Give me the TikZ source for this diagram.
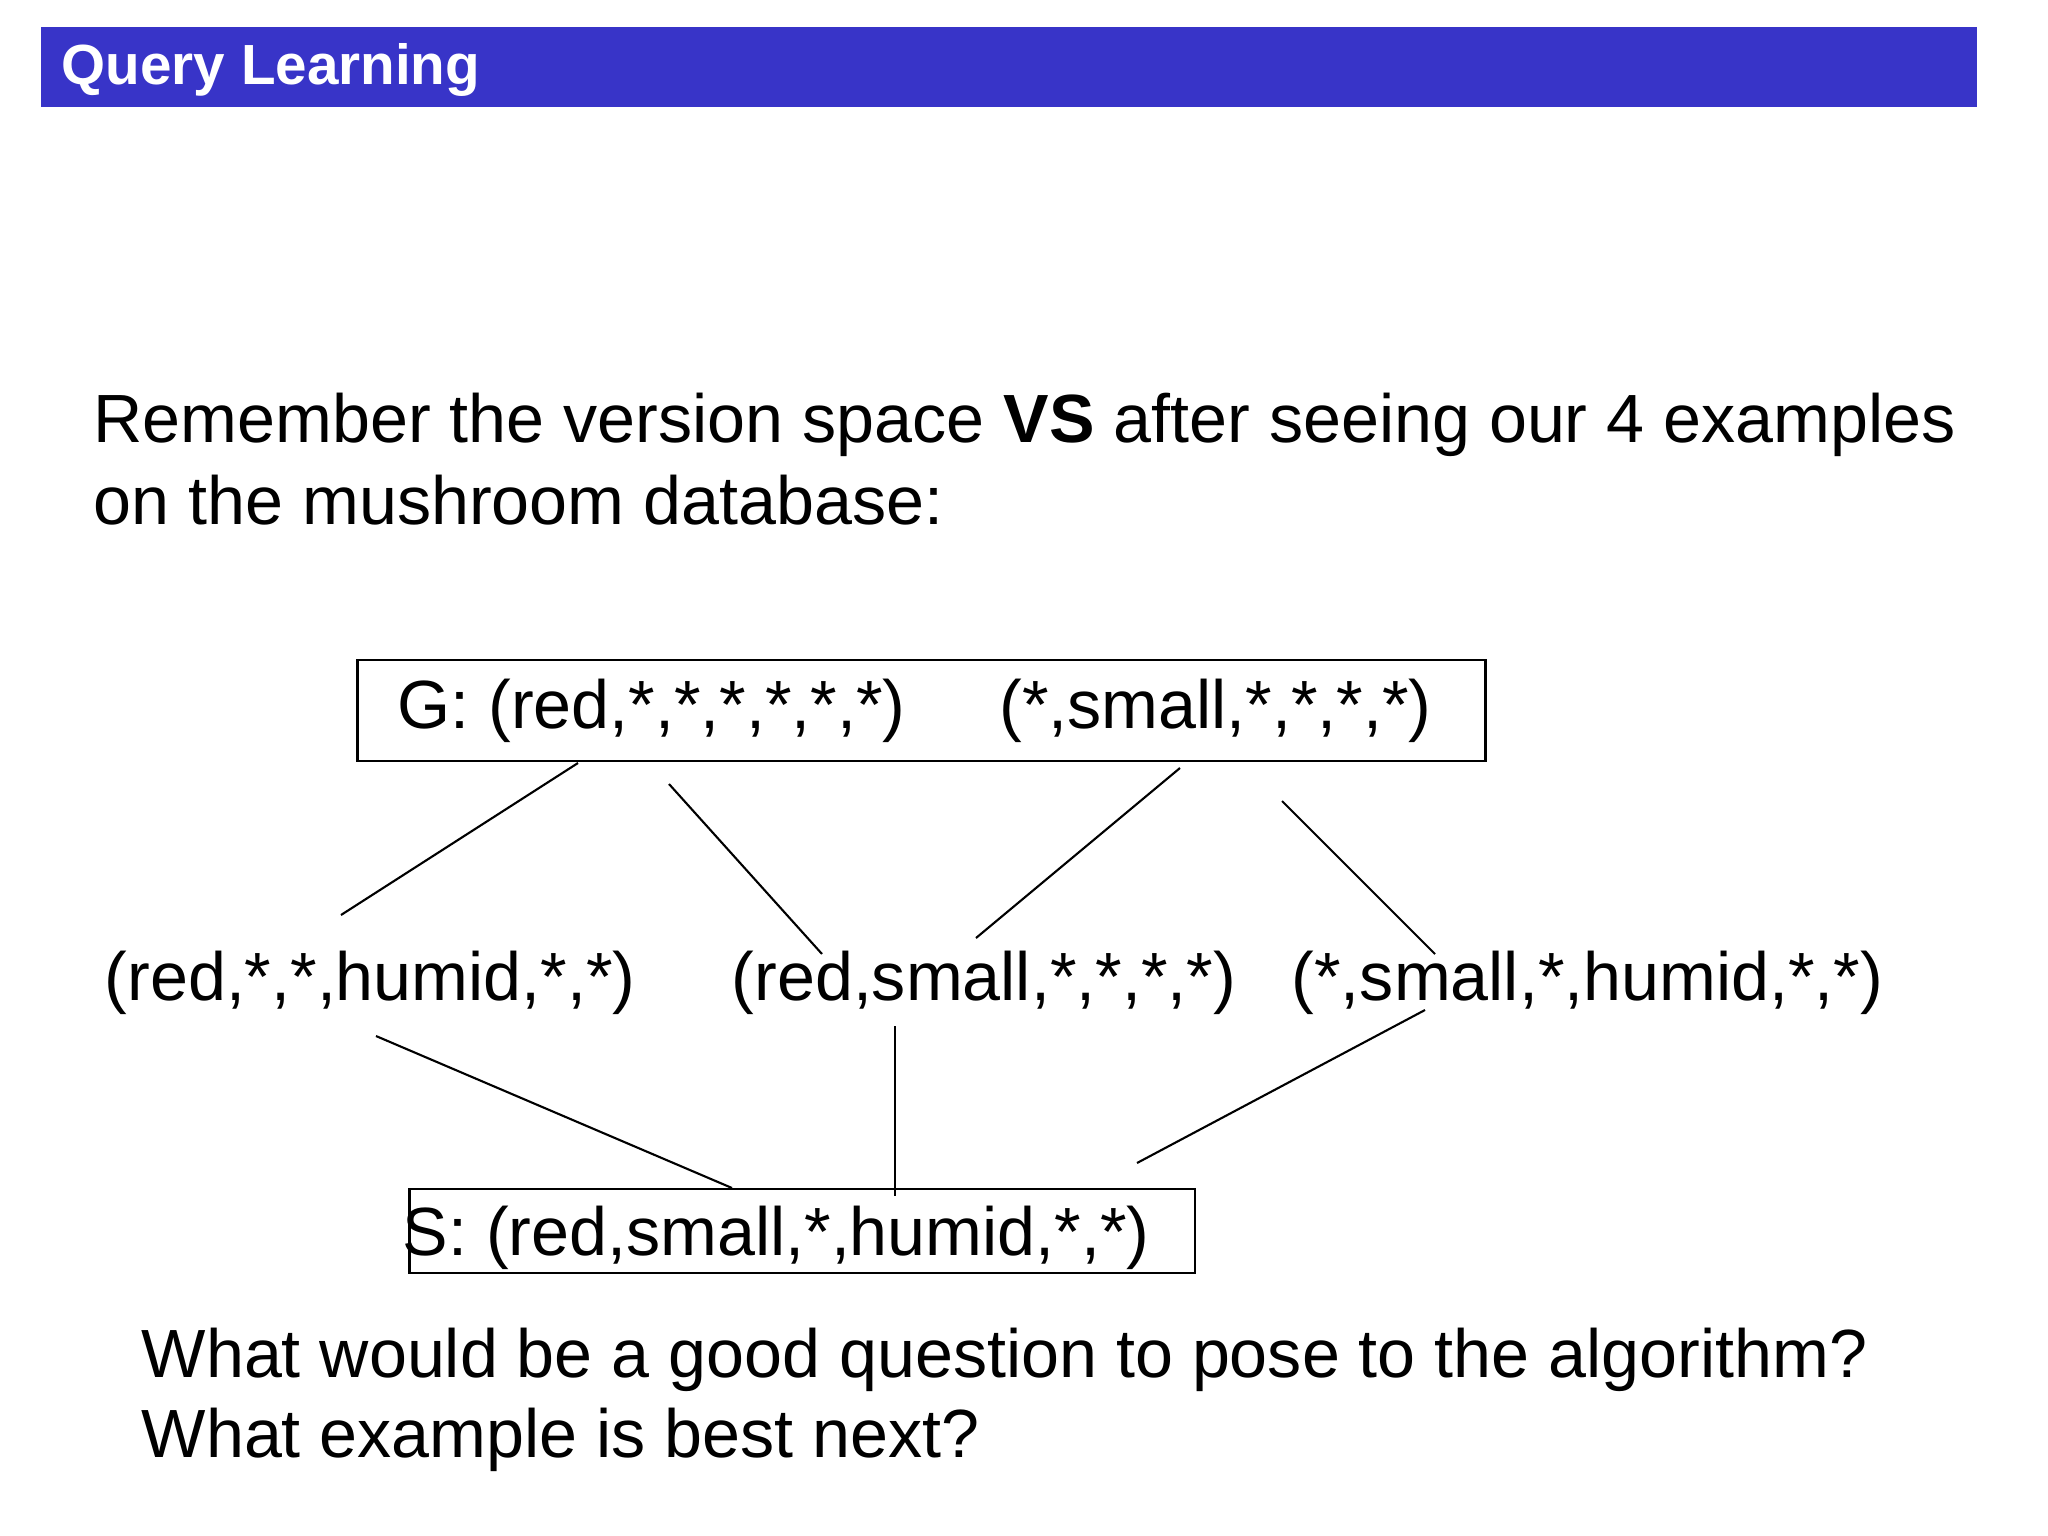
\documentclass[tikz,border=0pt]{standalone}
\usepackage{fontspec}
\setmainfont{Liberation Sans}
\usepackage{xcolor}
\usepackage{tikz}
\definecolor{titleblue}{RGB}{56, 52, 200}
\usetikzlibrary{positioning}

\begin{document}
\begin{tikzpicture}[
    x=0.01cm, y=-0.01cm,
    bodytext/.style={inner sep=0pt, anchor=base west, font=\fontsize{19.4}{23}\selectfont},
    setbox/.style={draw, line width=0.7pt, inner sep=0pt, font=\fontsize{19.4}{23}\selectfont},
    link/.style={line width=0.6pt}
]
    \useasboundingbox (0,0) rectangle (2048,1536);

    % title bar
    \node[fill=titleblue, inner sep=0pt, minimum width=19.35cm, minimum height=0.8cm, anchor=north west] (bar) at (40,26) {};
    \node[inner sep=0pt, anchor=base west, text=white, font=\fontsize{16.1}{19}\selectfont\bfseries] (title) at (61,84) {Query Learning};

    % intro text
    \node[bodytext] (intro1) at (93,442) {Remember the version space \textbf{VS} after seeing our 4 examples};
    \node[bodytext] (intro2) at (93,524) {on the mushroom database:};

    % version space
    \node[setbox, minimum width=11.27cm, minimum height=1.01cm] (gbox) at (921.5,710.5) {G: (red,*,*,*,*,*,*)\hspace{0.94cm}(*,small,*,*,*,*)\kern0.14cm};
    \node[bodytext] (mid1) at (104,1000) {(red,*,*,humid,*,*)};
    \node[bodytext] (mid2) at (731,1000) {(red,small,*,*,*,*)};
    \node[bodytext] (mid3) at (1291,1000) {(*,small,*,humid,*,*)};
    \node[setbox, minimum width=7.85cm, minimum height=0.84cm] (sbox) at (802,1231) {};
    \node[bodytext] (stext) at (402,1255) {S: (red,small,*,humid,*,*)};

    % ends of the links
    \coordinate (g1) at (578,763);
    \coordinate (g2) at (669,784);
    \coordinate (g3) at (1180,768);
    \coordinate (g4) at (1282,801);
    \coordinate (m1t) at (341,915);
    \coordinate (m2a) at (822,954);
    \coordinate (m2b) at (976,938);
    \coordinate (m3t) at (1435,954);
    \coordinate (m1b) at (376,1036);
    \coordinate (m2c) at (895,1026);
    \coordinate (m3b) at (1425,1010);
    \coordinate (s1) at (732,1188);
    \coordinate (s2) at (895,1196);
    \coordinate (s3) at (1137,1163);

    \draw[link] (g1) -- (m1t);
    \draw[link] (g2) -- (m2a);
    \draw[link] (g3) -- (m2b);
    \draw[link] (g4) -- (m3t);
    \draw[link] (m1b) -- (s1);
    \draw[link] (m2c) -- (s2);
    \draw[link] (m3b) -- (s3);

    % questions
    \node[bodytext] (ask1) at (141,1377) {What would be a good question to pose to the algorithm?};
    \node[bodytext] (ask2) at (141,1457) {What example is best next?};
\end{tikzpicture}
\end{document}
